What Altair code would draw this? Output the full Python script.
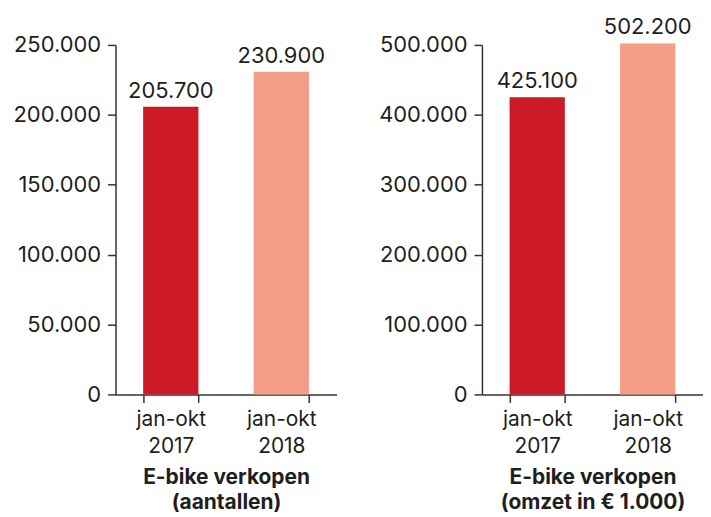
import altair as alt
import pandas as pd

categories = ["jan-okt 2017", "jan-okt 2018"]
aantallen = [205700, 230900]
omzet = [425100, 502200]
colors = ["#cc1b26", "#f39e86"]

ticks_left = [0, 50000, 100000, 150000, 200000, 250000]
ticks_right = [0, 100000, 200000, 300000, 400000, 500000]

FONT = "Inter"
TXT = "#1e1e1e"


def panel(values, ticks, title):
    df = pd.DataFrame({"cat": categories, "val": values})
    x = alt.X("cat:N", sort=categories,
              scale=alt.Scale(paddingInner=0.5, paddingOuter=0.25),
              axis=alt.Axis(title=title, labelAngle=0,
                            labelExpr="split(datum.label, ' ')",
                            labelLineHeight=27, labelPadding=6,
                            labelFontSize=21, tickBand="extent",
                            tickSize=8, titleFontSize=21, titleFontWeight="bold",
                            titleLineHeight=26, titlePadding=10))
    y = alt.Y("val:Q", scale=alt.Scale(domain=[ticks[0], ticks[-1]], nice=False),
              axis=alt.Axis(title=None, values=ticks, grid=False,
                            labelExpr="format(datum.value, ',.0f')",
                            labelFontSize=22, tickSize=8, labelPadding=7,
                            minExtent=108, maxExtent=108))
    bars = alt.Chart(df).mark_bar(clip=False).encode(
        x=x, y=y,
        color=alt.Color("cat:N", scale=alt.Scale(domain=categories, range=colors), legend=None),
    )
    labels = alt.Chart(df).mark_text(baseline="alphabetic", dy=-9, fontSize=22,
                                     font=FONT, color=TXT).encode(
        x=alt.X("cat:N", sort=categories),
        y=alt.Y("val:Q"),
        text=alt.Text("val:Q", format=",.0f"),
    )
    return (bars + labels).properties(width=222, height=351)


left = panel(aantallen, ticks_left, ["E-bike verkopen", "(aantallen)"])
right = panel(omzet, ticks_right, ["E-bike verkopen", "(omzet in € 1.000)"])

chart = alt.hconcat(left, right, spacing=38).properties(
    padding={"top": 7, "left": 0, "right": 0, "bottom": 0}
).configure(
    font=FONT,
    locale=alt.Locale(number=alt.NumberLocale(decimal=",", thousands=".", grouping=[3], currency=["€", ""])),
).configure_view(stroke=None).configure_axis(
    domainColor="#333333", domainWidth=1.5, tickColor="#333333", tickWidth=1.5,
    labelColor=TXT, titleColor=TXT, labelFont=FONT, titleFont=FONT,
)

chart.save("out.html", embed_options={"renderer": "svg", "actions": False})
